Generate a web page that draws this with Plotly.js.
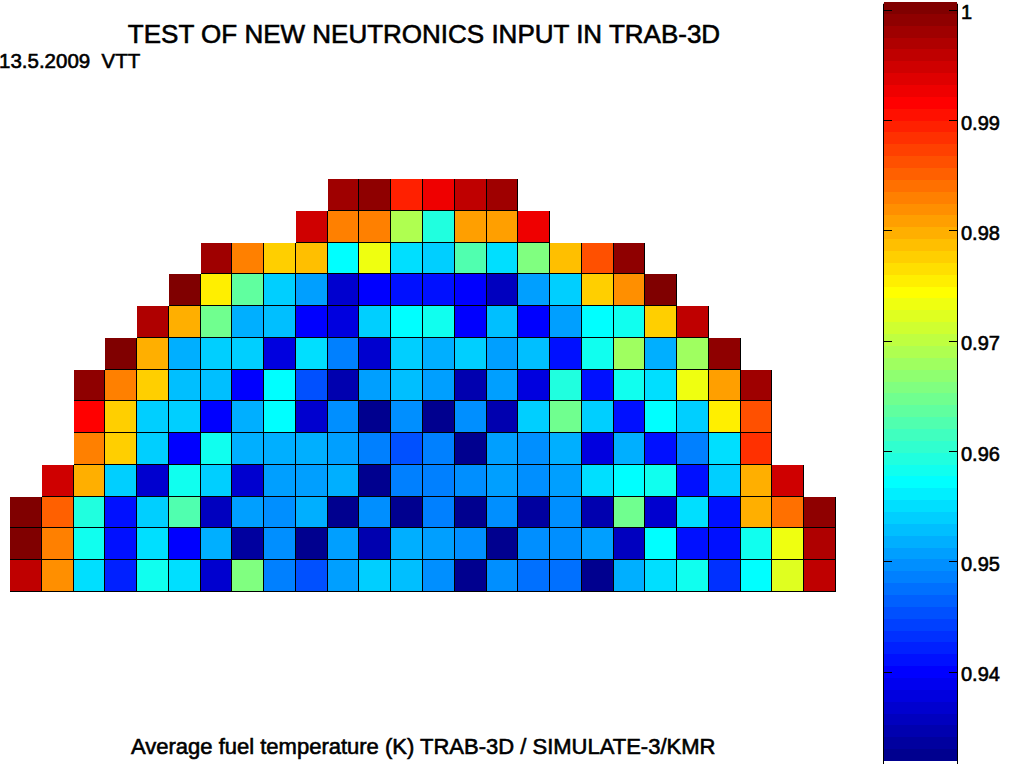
<!DOCTYPE html>
<html><head><meta charset="utf-8">
<script src="https://cdn.plot.ly/plotly-3.0.1.min.js"></script>
<style>
html,body{margin:0;padding:0;background:#fff;}
#chart{width:1018px;height:764px;}
#chart text.gtitle, #chart text.annotation-text { stroke:#000 !important; stroke-width:0.6px !important; }
</style>
</head><body><div id="chart"></div>
<script>
// ---- data (ratio TRAB-3D / SIMULATE-3/KMR), rows from top to bottom ----
const nCols = 26;
const rowStart = [10, 9, 6, 5, 4, 3, 2, 2, 2, 1, 0, 0, 0];
const row01 = [0.9978, 0.9986, 0.9889, 0.9921, 0.9955, 0.9978];
const row02 = [0.9945, 0.9826, 0.9826, 0.9695, 0.9598, 0.9803, 0.9803, 0.9921];
const row03 = [0.9978, 0.9826, 0.9773, 0.9783, 0.9567, 0.9732, 0.9553, 0.9534, 0.9622, 0.9553, 0.9653, 0.9783, 0.9867, 0.9986];
const row04 = [1.0007, 0.9759, 0.9631, 0.9534, 0.9512, 0.9371, 0.9395, 0.9415, 0.9415, 0.9395, 0.9360, 0.9512, 0.9534, 0.9773, 0.9814, 1.0007];
const row05 = [0.9969, 0.9794, 0.9642, 0.9519, 0.9525, 0.9395, 0.9381, 0.9534, 0.9567, 0.9577, 0.9395, 0.9532, 0.9395, 0.9508, 0.9567, 0.9577, 0.9773, 0.9955];
const row06 = [1.0000, 0.9794, 0.9523, 0.9534, 0.9534, 0.9381, 0.9553, 0.9481, 0.9371, 0.9534, 0.9519, 0.9534, 0.9508, 0.9525, 0.9405, 0.9587, 0.9674, 0.9523, 0.9674, 0.9993];
const row07 = [0.9993, 0.9826, 0.9773, 0.9525, 0.9525, 0.9395, 0.9567, 0.9457, 0.9347, 0.9508, 0.9525, 0.9508, 0.9347, 0.9508, 0.9381, 0.9598, 0.9405, 0.9587, 0.9553, 0.9728, 0.9803, 0.9978];
const row08 = [0.9911, 0.9773, 0.9534, 0.9534, 0.9395, 0.9523, 0.9567, 0.9371, 0.9491, 0.9319, 0.9498, 0.9319, 0.9491, 0.9347, 0.9534, 0.9642, 0.9534, 0.9405, 0.9567, 0.9534, 0.9749, 0.9867];
const row09 = [0.9826, 0.9773, 0.9534, 0.9395, 0.9577, 0.9519, 0.9519, 0.9519, 0.9512, 0.9481, 0.9457, 0.9481, 0.9319, 0.9508, 0.9491, 0.9519, 0.9381, 0.9519, 0.9405, 0.9481, 0.9553, 0.9878];
const row10 = [0.9945, 0.9794, 0.9534, 0.9371, 0.9577, 0.9534, 0.9371, 0.9508, 0.9508, 0.9519, 0.9319, 0.9481, 0.9481, 0.9498, 0.9508, 0.9498, 0.9508, 0.9553, 0.9567, 0.9577, 0.9405, 0.9534, 0.9794, 0.9945];
const row11 = [1.0000, 0.9846, 0.9598, 0.9405, 0.9534, 0.9622, 0.9357, 0.9508, 0.9498, 0.9519, 0.9319, 0.9498, 0.9319, 0.9484, 0.9319, 0.9498, 0.9333, 0.9498, 0.9347, 0.9642, 0.9371, 0.9553, 0.9405, 0.9794, 0.9835, 0.9986];
const row12 = [1.0000, 0.9826, 0.9587, 0.9415, 0.9553, 0.9395, 0.9523, 0.9333, 0.9498, 0.9319, 0.9508, 0.9347, 0.9523, 0.9508, 0.9498, 0.9319, 0.9491, 0.9498, 0.9508, 0.9357, 0.9567, 0.9415, 0.9405, 0.9577, 0.9728, 0.9969];
const row13 = [0.9955, 0.9814, 0.9553, 0.9426, 0.9587, 0.9553, 0.9371, 0.9653, 0.9481, 0.9457, 0.9508, 0.9534, 0.9525, 0.9498, 0.9319, 0.9491, 0.9470, 0.9470, 0.9319, 0.9523, 0.9553, 0.9587, 0.9436, 0.9567, 0.9718, 0.9955];
const colorMin = 0.9319, colorMax = 1.0007;
const tickVals = [0.94, 0.95, 0.96, 0.97, 0.98, 0.99, 1];
const tickText = ['0.94', '0.95', '0.96', '0.97', '0.98', '0.99', '1'];
const titleText = 'TEST OF NEW NEUTRONICS INPUT IN TRAB-3D';
const subtitleText = '13.5.2009\u00a0 VTT';
const captionText = 'Average fuel temperature (K) TRAB-3D / SIMULATE-3/KMR';

// ---- build grid ----
const rows = [row01,row02,row03,row04,row05,row06,row07,row08,row09,row10,row11,row12,row13];
const xs = Array.from({length:nCols}, (_, i) => i);
const ys = rows.map((_, i) => i);
const z = rows.map((r, i) => {
  const out = new Array(nCols).fill(null);
  r.forEach((v, k) => { out[rowStart[i] + k] = v; });
  return out;
});
const mask = z.map(r => r.map(v => v === null ? null : 1));

// MATLAB jet(64) colormap as discrete Plotly colorscale
function jet(n) {
  const m = Math.ceil(n / 4);
  const u = [];
  for (let i = 1; i <= m; i++) u.push(i / m);
  for (let i = 0; i < m - 1; i++) u.push(1);
  for (let i = m; i >= 1; i--) u.push(i / m);
  const off = Math.ceil(m / 2) - (n % 4 === 1 ? 1 : 0);
  const J = Array.from({length: n}, () => [0, 0, 0]);
  for (let k = 1; k <= u.length; k++) {
    const g = off + k, r = g + m, b = g - m;
    if (r >= 1 && r <= n) J[r - 1][0] = u[k - 1];
    if (g >= 1 && g <= n) J[g - 1][1] = u[k - 1];
    if (b >= 1 && b <= n) J[b - 1][2] = u[k - 1];
  }
  return J;
}
const J = jet(64);
const jetScale = [];
J.forEach((c, k) => {
  const col = 'rgb(' + c.map(v => Math.round(v * 255)).join(',') + ')';
  jetScale.push([k / 64, col]);
  jetScale.push([(k + 1) / 64, col]);
});

const FONT = 'Liberation Sans, Arial, Helvetica, sans-serif';
const W = 1018, H = 764;
const M = { l: 10, r: 182, t: 179, b: 172 };
const PW = W - M.l - M.r, PH = H - M.t - M.b;
// colorbar geometry in pixels
const CB = { left: 884, top: 4.5, thick: 73, len: 759 };
const px2x = p => (p - M.l) / PW, px2y = p => (H - M.b - p) / PH;
const val2px = v => CB.top + (colorMax - v) / (colorMax - colorMin) * CB.len;

const cbCommon = {
  xref: 'container', yref: 'container',
  y: 1 - CB.top / H, yanchor: 'top', ypad: 0, xpad: 0,
  lenmode: 'pixels', len: CB.len, thicknessmode: 'pixels',
  tickvals: tickVals, ticktext: tickText, showticklabels: false,
  tickwidth: 1, tickcolor: '#000', outlinewidth: 0
};

const traces = [
  { type: 'heatmap', x: xs, y: ys, z: mask, zmin: 0, zmax: 1,
    colorscale: [[0, '#000'], [1, '#000']], showscale: false, hoverinfo: 'skip' },
  { type: 'heatmap', x: xs, y: ys, z: z, zmin: colorMin, zmax: colorMax,
    colorscale: jetScale, xgap: 1, ygap: 1, zsmooth: false,
    colorbar: Object.assign({}, cbCommon, {
      x: CB.left / W, xanchor: 'left', thickness: CB.thick,
      ticks: 'inside', ticklen: 8
    }) },
  // transparent twin colorbar: supplies the matching tick marks on the bar's left edge
  { type: 'heatmap', x: xs, y: ys, z: z, zmin: colorMin, zmax: colorMax,
    colorscale: [[0, 'rgba(0,0,0,0)'], [1, 'rgba(0,0,0,0)']], hoverinfo: 'skip',
    colorbar: Object.assign({}, cbCommon, {
      x: (CB.left - 10) / W, xanchor: 'left', thickness: 10,
      ticks: 'outside', ticklen: 8
    }) }
];

// frame drawn just outside the colour bar (bottom runs off the page as in the original)
const cbFrame = { type: 'rect', xref: 'paper', yref: 'paper', layer: 'above',
  x0: px2x(CB.left - 0.5), x1: px2x(CB.left + CB.thick + 0.5),
  y0: px2y(CB.top - 0.5), y1: px2y(H + 10),
  line: { color: '#000', width: 1 }, fillcolor: 'rgba(0,0,0,0)' };

// colour bar tick labels, centred on their ticks
const cbLabels = tickVals.map((v, i) => ({
  text: tickText[i], xref: 'paper', yref: 'paper', x: px2x(960), y: px2y(val2px(v)),
  xanchor: 'left', yanchor: 'middle', showarrow: false, borderpad: 0,
  font: { family: FONT, size: 20, color: '#000' } }));

const layout = {
  width: W, height: H,
  margin: { l: M.l, r: M.r, t: M.t, b: M.b, pad: 0 },
  paper_bgcolor: '#fff', plot_bgcolor: '#fff',
  xaxis: { range: [-0.5, 25.5], visible: false, fixedrange: true },
  yaxis: { range: [12.5, -0.5], visible: false, fixedrange: true },
  title: { text: titleText, font: { family: FONT, size: 26, color: '#000' },
           xref: 'container', x: 424 / W, xanchor: 'center',
           yref: 'container', y: 1 - 34 / H, yanchor: 'middle' },
  annotations: [
    { text: subtitleText, xref: 'paper', yref: 'paper', x: px2x(-2), y: px2y(61),
      xanchor: 'left', yanchor: 'middle', showarrow: false, borderpad: 0,
      font: { family: FONT, size: 20.5, color: '#000' } },
    { text: captionText, xref: 'paper', yref: 'paper', x: px2x(423), y: px2y(746),
      xanchor: 'center', yanchor: 'middle', showarrow: false,
      font: { family: FONT, size: 22, color: '#000' } }
  ].concat(cbLabels),
  shapes: [cbFrame],
  showlegend: false
};

Plotly.newPlot('chart', traces, layout, { displayModeBar: false, staticPlot: true });
</script>
</body></html>
